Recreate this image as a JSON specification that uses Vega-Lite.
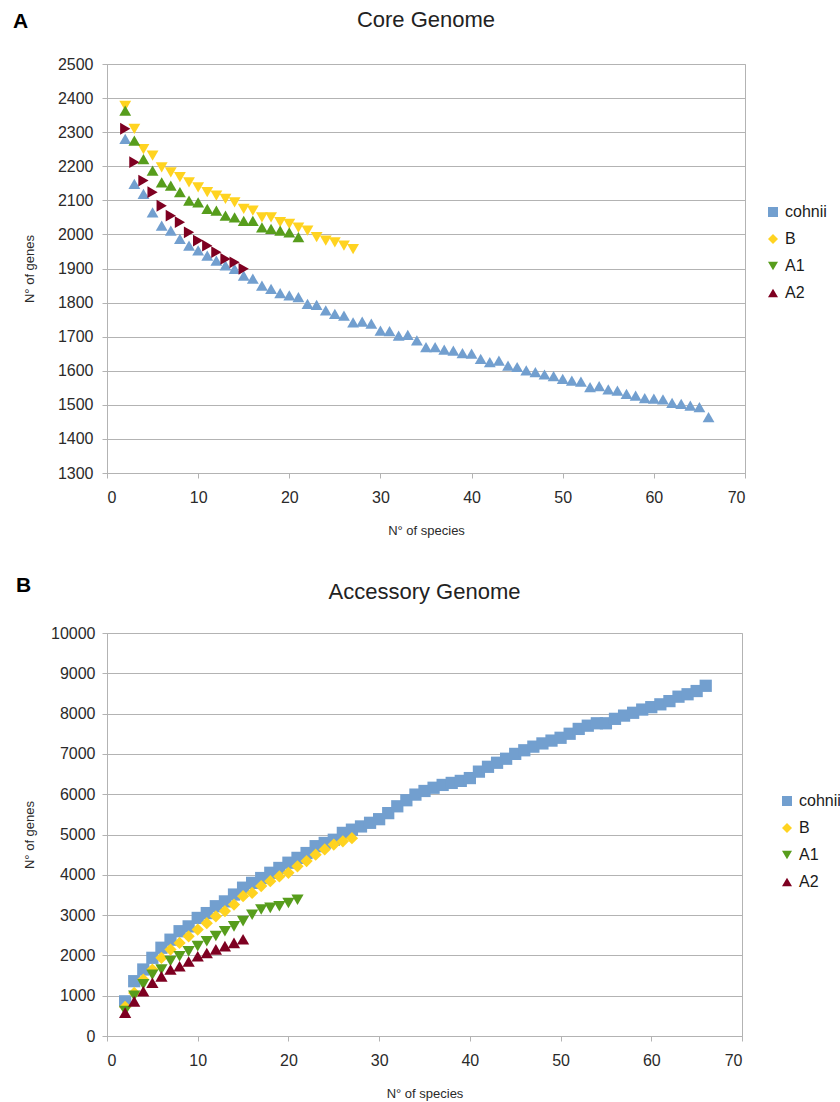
{
  "$schema": "https://vega.github.io/schema/vega-lite/v6.json",
  "background": "white",
  "padding": {"left": 12, "top": 8, "right": 2, "bottom": 3},
  "config": {
    "font": "Liberation Sans",
    "view": {"stroke": "#b3b3b3", "strokeWidth": 1},
    "axis": {
      "domainColor": "#b3b3b3",
      "tickColor": "#b3b3b3",
      "gridColor": "#b3b3b3",
      "tickSize": 5,
      "labelFont": "Liberation Sans",
      "labelFontSize": 16,
      "labelColor": "#2a2a2a",
      "titleFont": "Liberation Sans",
      "titleFontSize": 13,
      "titleFontWeight": "normal",
      "titleColor": "#2a2a2a"
    },
    "legend": {
      "labelFont": "Liberation Sans",
      "labelFontSize": 16,
      "labelColor": "#1a1a1a",
      "symbolSize": 100,
      "rowPadding": 11,
      "labelOffset": 4,
      "symbolStrokeWidth": 0,
      "symbolType": {"expr": "datum.value === 'cohnii' ? 'square' : datum.value === 'B' ? 'diamond' : datum.value === 'A1' ? 'triangle-down' : 'triangle-up'"}
    },
    "title": {"font": "Liberation Sans", "fontSize": 22, "fontWeight": "normal", "color": "#222222"}
  },
  "datasets": {
    "core": [
      {"s":"cohnii","n":2,"g":2280},{"s":"cohnii","n":3,"g":2148},{"s":"cohnii","n":4,"g":2119},{"s":"cohnii","n":5,"g":2065},{"s":"cohnii","n":6,"g":2026},{"s":"cohnii","n":7,"g":2011},{"s":"cohnii","n":8,"g":1987},{"s":"cohnii","n":9,"g":1967},{"s":"cohnii","n":10,"g":1953},{"s":"cohnii","n":11,"g":1938},{"s":"cohnii","n":12,"g":1923},{"s":"cohnii","n":13,"g":1909},{"s":"cohnii","n":14,"g":1899},{"s":"cohnii","n":15,"g":1879},{"s":"cohnii","n":16,"g":1870},{"s":"cohnii","n":17,"g":1850},{"s":"cohnii","n":18,"g":1840},{"s":"cohnii","n":19,"g":1828},{"s":"cohnii","n":20,"g":1821},{"s":"cohnii","n":21,"g":1816},{"s":"cohnii","n":22,"g":1796},{"s":"cohnii","n":23,"g":1793},{"s":"cohnii","n":24,"g":1777},{"s":"cohnii","n":25,"g":1767},{"s":"cohnii","n":26,"g":1762},{"s":"cohnii","n":27,"g":1742},{"s":"cohnii","n":28,"g":1744},{"s":"cohnii","n":29,"g":1738},{"s":"cohnii","n":30,"g":1718},{"s":"cohnii","n":31,"g":1716},{"s":"cohnii","n":32,"g":1703},{"s":"cohnii","n":33,"g":1705},{"s":"cohnii","n":34,"g":1689},{"s":"cohnii","n":35,"g":1669},{"s":"cohnii","n":36,"g":1669},{"s":"cohnii","n":37,"g":1662},{"s":"cohnii","n":38,"g":1659},{"s":"cohnii","n":39,"g":1652},{"s":"cohnii","n":40,"g":1650},{"s":"cohnii","n":41,"g":1635},{"s":"cohnii","n":42,"g":1625},{"s":"cohnii","n":43,"g":1630},{"s":"cohnii","n":44,"g":1615},{"s":"cohnii","n":45,"g":1611},{"s":"cohnii","n":46,"g":1601},{"s":"cohnii","n":47,"g":1596},{"s":"cohnii","n":48,"g":1589},{"s":"cohnii","n":49,"g":1584},{"s":"cohnii","n":50,"g":1576},{"s":"cohnii","n":51,"g":1571},{"s":"cohnii","n":52,"g":1568},{"s":"cohnii","n":53,"g":1552},{"s":"cohnii","n":54,"g":1555},{"s":"cohnii","n":55,"g":1545},{"s":"cohnii","n":56,"g":1542},{"s":"cohnii","n":57,"g":1532},{"s":"cohnii","n":58,"g":1527},{"s":"cohnii","n":59,"g":1520},{"s":"cohnii","n":60,"g":1518},{"s":"cohnii","n":61,"g":1516},{"s":"cohnii","n":62,"g":1506},{"s":"cohnii","n":63,"g":1503},{"s":"cohnii","n":64,"g":1498},{"s":"cohnii","n":65,"g":1493},{"s":"cohnii","n":66,"g":1464},
      {"s":"B","n":2,"g":2377},{"s":"B","n":3,"g":2310},{"s":"B","n":4,"g":2250},{"s":"B","n":5,"g":2231},{"s":"B","n":6,"g":2197},{"s":"B","n":7,"g":2182},{"s":"B","n":8,"g":2168},{"s":"B","n":9,"g":2153},{"s":"B","n":10,"g":2138},{"s":"B","n":11,"g":2124},{"s":"B","n":12,"g":2114},{"s":"B","n":13,"g":2104},{"s":"B","n":14,"g":2094},{"s":"B","n":15,"g":2075},{"s":"B","n":16,"g":2070},{"s":"B","n":17,"g":2050},{"s":"B","n":18,"g":2050},{"s":"B","n":19,"g":2036},{"s":"B","n":20,"g":2031},{"s":"B","n":21,"g":2020},{"s":"B","n":22,"g":2011},{"s":"B","n":23,"g":1992},{"s":"B","n":24,"g":1982},{"s":"B","n":25,"g":1977},{"s":"B","n":26,"g":1967},{"s":"B","n":27,"g":1957},
      {"s":"A1","n":2,"g":2363},{"s":"A1","n":3,"g":2275},{"s":"A1","n":4,"g":2221},{"s":"A1","n":5,"g":2187},{"s":"A1","n":6,"g":2153},{"s":"A1","n":7,"g":2143},{"s":"A1","n":8,"g":2124},{"s":"A1","n":9,"g":2099},{"s":"A1","n":10,"g":2094},{"s":"A1","n":11,"g":2075},{"s":"A1","n":12,"g":2070},{"s":"A1","n":13,"g":2055},{"s":"A1","n":14,"g":2050},{"s":"A1","n":15,"g":2040},{"s":"A1","n":16,"g":2040},{"s":"A1","n":17,"g":2021},{"s":"A1","n":18,"g":2016},{"s":"A1","n":19,"g":2011},{"s":"A1","n":20,"g":2006},{"s":"A1","n":21,"g":1992},
      {"s":"A2","n":2,"g":2310},{"s":"A2","n":3,"g":2212},{"s":"A2","n":4,"g":2158},{"s":"A2","n":5,"g":2124},{"s":"A2","n":6,"g":2084},{"s":"A2","n":7,"g":2055},{"s":"A2","n":8,"g":2036},{"s":"A2","n":9,"g":2006},{"s":"A2","n":10,"g":1982},{"s":"A2","n":11,"g":1967},{"s":"A2","n":12,"g":1948},{"s":"A2","n":13,"g":1928},{"s":"A2","n":14,"g":1918},{"s":"A2","n":15,"g":1899}
    ],
    "acc": [
      {"s":"cohnii","n":2,"g":860},{"s":"cohnii","n":3,"g":1360},{"s":"cohnii","n":4,"g":1650},{"s":"cohnii","n":5,"g":1940},{"s":"cohnii","n":6,"g":2190},{"s":"cohnii","n":7,"g":2390},{"s":"cohnii","n":8,"g":2600},{"s":"cohnii","n":9,"g":2720},{"s":"cohnii","n":10,"g":2930},{"s":"cohnii","n":11,"g":3050},{"s":"cohnii","n":12,"g":3220},{"s":"cohnii","n":13,"g":3340},{"s":"cohnii","n":14,"g":3510},{"s":"cohnii","n":15,"g":3680},{"s":"cohnii","n":16,"g":3800},{"s":"cohnii","n":17,"g":3920},{"s":"cohnii","n":18,"g":4050},{"s":"cohnii","n":19,"g":4170},{"s":"cohnii","n":20,"g":4300},{"s":"cohnii","n":21,"g":4420},{"s":"cohnii","n":22,"g":4540},{"s":"cohnii","n":23,"g":4710},{"s":"cohnii","n":24,"g":4790},{"s":"cohnii","n":25,"g":4870},{"s":"cohnii","n":26,"g":5040},{"s":"cohnii","n":27,"g":5120},{"s":"cohnii","n":28,"g":5200},{"s":"cohnii","n":29,"g":5290},{"s":"cohnii","n":30,"g":5380},{"s":"cohnii","n":31,"g":5530},{"s":"cohnii","n":32,"g":5700},{"s":"cohnii","n":33,"g":5850},{"s":"cohnii","n":34,"g":5990},{"s":"cohnii","n":35,"g":6080},{"s":"cohnii","n":36,"g":6160},{"s":"cohnii","n":37,"g":6230},{"s":"cohnii","n":38,"g":6280},{"s":"cohnii","n":39,"g":6330},{"s":"cohnii","n":40,"g":6400},{"s":"cohnii","n":41,"g":6560},{"s":"cohnii","n":42,"g":6680},{"s":"cohnii","n":43,"g":6780},{"s":"cohnii","n":44,"g":6880},{"s":"cohnii","n":45,"g":7000},{"s":"cohnii","n":46,"g":7090},{"s":"cohnii","n":47,"g":7180},{"s":"cohnii","n":48,"g":7260},{"s":"cohnii","n":49,"g":7330},{"s":"cohnii","n":50,"g":7400},{"s":"cohnii","n":51,"g":7500},{"s":"cohnii","n":52,"g":7620},{"s":"cohnii","n":53,"g":7700},{"s":"cohnii","n":54,"g":7760},{"s":"cohnii","n":55,"g":7760},{"s":"cohnii","n":56,"g":7870},{"s":"cohnii","n":57,"g":7950},{"s":"cohnii","n":58,"g":8020},{"s":"cohnii","n":59,"g":8100},{"s":"cohnii","n":60,"g":8160},{"s":"cohnii","n":61,"g":8230},{"s":"cohnii","n":62,"g":8310},{"s":"cohnii","n":63,"g":8420},{"s":"cohnii","n":64,"g":8480},{"s":"cohnii","n":65,"g":8560},{"s":"cohnii","n":66,"g":8690},
      {"s":"B","n":2,"g":720},{"s":"B","n":3,"g":1070},{"s":"B","n":4,"g":1400},{"s":"B","n":5,"g":1650},{"s":"B","n":6,"g":1940},{"s":"B","n":7,"g":2145},{"s":"B","n":8,"g":2310},{"s":"B","n":9,"g":2475},{"s":"B","n":10,"g":2640},{"s":"B","n":11,"g":2800},{"s":"B","n":12,"g":2970},{"s":"B","n":13,"g":3100},{"s":"B","n":14,"g":3260},{"s":"B","n":15,"g":3470},{"s":"B","n":16,"g":3550},{"s":"B","n":17,"g":3720},{"s":"B","n":18,"g":3840},{"s":"B","n":19,"g":3960},{"s":"B","n":20,"g":4050},{"s":"B","n":21,"g":4210},{"s":"B","n":22,"g":4340},{"s":"B","n":23,"g":4500},{"s":"B","n":24,"g":4630},{"s":"B","n":25,"g":4750},{"s":"B","n":26,"g":4830},{"s":"B","n":27,"g":4910},
      {"s":"A1","n":2,"g":620},{"s":"A1","n":3,"g":1000},{"s":"A1","n":4,"g":1280},{"s":"A1","n":5,"g":1520},{"s":"A1","n":6,"g":1650},{"s":"A1","n":7,"g":1860},{"s":"A1","n":8,"g":1980},{"s":"A1","n":9,"g":2100},{"s":"A1","n":10,"g":2230},{"s":"A1","n":11,"g":2350},{"s":"A1","n":12,"g":2480},{"s":"A1","n":13,"g":2600},{"s":"A1","n":14,"g":2720},{"s":"A1","n":15,"g":2850},{"s":"A1","n":16,"g":3010},{"s":"A1","n":17,"g":3140},{"s":"A1","n":18,"g":3180},{"s":"A1","n":19,"g":3220},{"s":"A1","n":20,"g":3300},{"s":"A1","n":21,"g":3380},
      {"s":"A2","n":2,"g":580},{"s":"A2","n":3,"g":860},{"s":"A2","n":4,"g":1110},{"s":"A2","n":5,"g":1320},{"s":"A2","n":6,"g":1480},{"s":"A2","n":7,"g":1650},{"s":"A2","n":8,"g":1730},{"s":"A2","n":9,"g":1850},{"s":"A2","n":10,"g":1980},{"s":"A2","n":11,"g":2060},{"s":"A2","n":12,"g":2150},{"s":"A2","n":13,"g":2230},{"s":"A2","n":14,"g":2310},{"s":"A2","n":15,"g":2400}
    ]
  },
  "spacing": 36,
  "resolve": {
    "scale": {"x": "independent", "y": "independent", "color": "independent", "shape": "independent"},
    "legend": {"color": "independent", "shape": "independent"}
  },
  "vconcat": [
    {
      "title": {"text": "A", "anchor": "start", "frame": "bounds", "font": "Liberation Sans", "fontSize": 21, "fontWeight": "bold", "color": "#000000", "offset": 0, "dx": -10, "dy": 23},
      "vconcat": [
        {
          "width": 638,
          "height": 409,
          "title": {"text": "Core Genome", "offset": 24},
          "data": {"name": "core"},
          "mark": {"type": "point", "filled": true, "opacity": 1, "size": 140},
          "encoding": {
            "x": {"field": "n", "type": "quantitative", "scale": {"domain": [0, 70], "nice": false},
                  "axis": {"values": [0,10,20,30,40,50,60,70], "grid": false, "title": "N° of species", "labelPadding": 11, "titlePadding": 19}},
            "y": {"field": "g", "type": "quantitative", "scale": {"domain": [1300, 2500], "nice": false, "zero": false},
                  "axis": {"values": [1300,1400,1500,1600,1700,1800,1900,2000,2100,2200,2300,2400,2500], "format": "d", "grid": true, "title": "N° of genes", "labelPadding": 9, "titlePadding": 21}},
            "color": {"field": "s", "type": "nominal", "title": null,
                      "scale": {"domain": ["cohnii", "B", "A1", "A2"], "range": ["#729fcf", "#ffd320", "#579d1c", "#7e0021"]},
                      "legend": {"orient": "none", "legendX": 658, "legendY": 140, "title": null}},
            "shape": {"field": "s", "type": "nominal",
                      "scale": {"domain": ["A2", "A1", "B", "cohnii"], "range": ["triangle-right", "triangle-up", "triangle-down", "triangle-up"]},
                      "legend": null}
          }
        }
      ]
    },
    {
      "title": {"text": "B", "anchor": "start", "frame": "bounds", "font": "Liberation Sans", "fontSize": 21, "fontWeight": "bold", "color": "#000000", "offset": 0, "dx": -7, "dy": 15},
      "vconcat": [
        {
          "width": 635,
          "height": 403,
          "title": {"text": "Accessory Genome", "offset": 21},
          "data": {"name": "acc"},
          "mark": {"type": "point", "filled": true, "opacity": 1, "size": 150},
          "encoding": {
            "x": {"field": "n", "type": "quantitative", "scale": {"domain": [0, 70], "nice": false},
                  "axis": {"values": [0,10,20,30,40,50,60,70], "grid": false, "title": "N° of species", "labelPadding": 11, "titlePadding": 19}},
            "y": {"field": "g", "type": "quantitative", "scale": {"domain": [0, 10000], "nice": false},
                  "axis": {"values": [0,1000,2000,3000,4000,5000,6000,7000,8000,9000,10000], "format": "d", "grid": true, "title": "N° of genes", "labelPadding": 7, "titlePadding": 14}},
            "color": {"field": "s", "type": "nominal", "title": null,
                      "scale": {"domain": ["cohnii", "B", "A1", "A2"], "range": ["#729fcf", "#ffd320", "#579d1c", "#7e0021"]},
                      "legend": {"orient": "none", "legendX": 672, "legendY": 160, "title": null}},
            "shape": {"field": "s", "type": "nominal",
                      "scale": {"domain": ["A2", "A1", "B", "cohnii"], "range": ["triangle-up", "triangle-down", "diamond", "square"]},
                      "legend": null}
          }
        }
      ]
    }
  ]
}
